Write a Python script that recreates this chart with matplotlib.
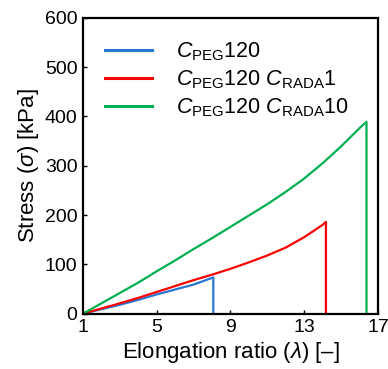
import matplotlib
matplotlib.use("Agg")
import matplotlib.pyplot as plt

plt.rcParams['font.family'] = ['Liberation Sans', 'DejaVu Sans']
plt.rcParams['mathtext.fontset'] = 'custom'
plt.rcParams['mathtext.rm'] = 'Liberation Sans'
plt.rcParams['mathtext.it'] = 'Liberation Sans:italic'

# Stress-strain curves
lam_peg = [1, 2, 3, 4, 5, 6, 7, 8.07, 8.07]
sig_peg = [0, 9, 18, 28, 39, 49, 59, 73.5, 0]

lam_rada1 = [1, 2, 3, 4, 5, 6, 7, 8, 9, 10, 11, 12, 13, 14, 14.18, 14.18]
sig_rada1 = [0, 10.5, 21, 32, 44, 56, 68, 79, 91, 104, 118, 134, 155, 180, 186, 0]

lam_rada10 = [1, 2, 3, 4, 5, 6, 7, 8, 9, 10, 11, 12, 13, 14, 15, 16, 16.38, 16.38]
sig_rada10 = [0, 21, 42, 63, 86, 108, 131, 153, 176, 199, 222, 247, 274,
              305, 339, 376, 389, 0]

labels = [r'$C_{\mathrm{PEG}}$120',
          r'$C_{\mathrm{PEG}}$120 $C_{\mathrm{RADA}}$1',
          r'$C_{\mathrm{PEG}}$120 $C_{\mathrm{RADA}}$10']
colors = ['#2878D0', '#FF0000', '#00B050']

fig = plt.figure(figsize=(3.88, 3.69), dpi=100)
ax = fig.add_axes([0.214, 0.150, 0.760, 0.802])

ax.plot(lam_peg, sig_peg, color=colors[0], lw=1.6, label=labels[0])
ax.plot(lam_rada1, sig_rada1, color=colors[1], lw=1.6, label=labels[1])
ax.plot(lam_rada10, sig_rada10, color=colors[2], lw=1.6, label=labels[2])

ax.set_xlim(1, 17)
ax.set_ylim(0, 600)
ax.set_xticks([1, 5, 9, 13, 17])
ax.set_yticks([0, 100, 200, 300, 400, 500, 600])
ax.tick_params(direction='in', length=3, width=1, labelsize=14, pad=4)
for s in ax.spines.values():
    s.set_linewidth(1.6)

ax.set_xlabel(r'Elongation ratio ($\lambda$) [–]', fontsize=16, labelpad=3)
ax.set_ylabel(r'Stress ($\sigma$) [kPa]', fontsize=16, labelpad=3)

leg = ax.legend(loc='upper left', frameon=False, fontsize=15.5,
                handlelength=2.2, handletextpad=1.1, labelspacing=0.25,
                borderaxespad=0.3, bbox_to_anchor=(0.022, 0.975))
for line in leg.get_lines():
    line.set_linewidth(2.2)

fig.savefig('out.png', dpi=100)
